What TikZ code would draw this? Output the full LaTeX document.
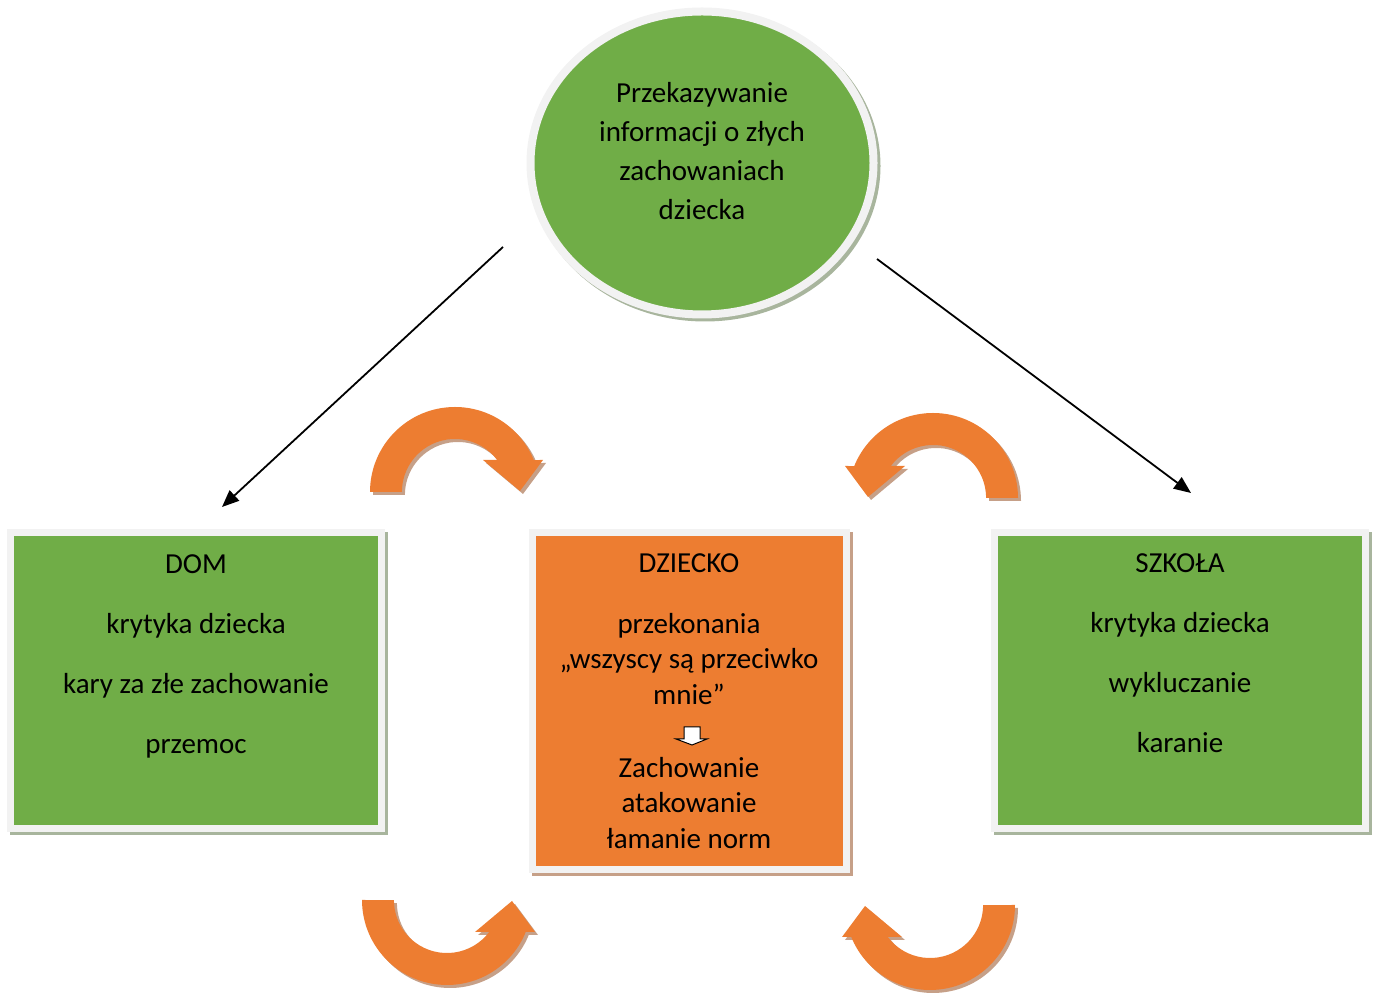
\documentclass[tikz,border=0pt]{standalone}
\usepackage{fontspec}
\setmainfont{Carlito}
\usetikzlibrary{shapes.geometric, arrows.meta, positioning}
\definecolor{leafgreen}{HTML}{70AD47}
\definecolor{carrot}{HTML}{ED7D31}
\definecolor{framegray}{HTML}{F2F2F2}
\definecolor{greenshade}{HTML}{A8B59D}
\definecolor{carrotshade}{HTML}{C6A088}
\tikzset{
  greenbox/.style = {rectangle, fill = leafgreen, draw = framegray, line width = 7pt, minimum width = 371.5pt, minimum height = 296pt, inner sep = 0pt,
    preaction = {draw = greenshade, line width = 7pt, transform canvas = {shift = {(3pt,-3pt)}}}},
  carrotbox/.style = {rectangle, fill = carrot, draw = framegray, line width = 7pt, minimum width = 314pt, minimum height = 337pt, inner sep = 0pt,
    preaction = {draw = carrotshade, line width = 7pt, transform canvas = {shift = {(3pt,-3pt)}}}},
  bubble/.style = {ellipse, fill = leafgreen, draw = framegray, line width = 8pt, minimum width = 343pt, minimum height = 303pt, inner sep = 0pt,
    preaction = {draw = greenshade, line width = 8pt, transform canvas = {shift = {(3pt,-3pt)}}}},
  boxtext/.style = {align = center, inner sep = 0pt, font = \fontsize{29}{35.5}\selectfont},
  bubbletext/.style = {align = center, inner sep = 0pt, font = \fontsize{29}{39}\selectfont},
  link/.style = {draw, line width = 1.8pt, -{Triangle[length = 17pt, width = 14pt]}},
  whitearrow/.style = {draw, fill = white, line width = 1pt, line join = miter},
  curvarrow/.pic = {
    \fill[pic actions] (-85,0) arc[start angle = 180, end angle = 22.1, radius = 85] -- (88,32) -- (65,1) -- (28,32) -- (42.2,32)
      arc[start angle = 37.1, end angle = 180, radius = 53] -- cycle;
  }
}
\begin{document}
\begin{tikzpicture}[x = 1pt, y = 1pt]
			\useasboundingbox (0,0) rectangle (1376,998);
			% Place nodes
			\node [bubble] (circ) at (702, 835) {};
			\node [bubbletext, below = 75pt of circ.north] (circtext) {Przekazywanie\\informacji o złych\\zachowaniach\\dziecka};
			\node [greenbox] (dom) at (196, 317.5) {};
			\node [carrotbox] (dziecko) at (689, 297) {};
			\node [greenbox] (szkola) at (1180, 317.5) {};
			\node [boxtext, below = 25pt of dom.north] (domtext) {DOM\\[24.5pt]krytyka dziecka\\[24.5pt]kary za złe zachowanie\\[24.5pt]przemoc};
			\node [boxtext, below = 24pt of dziecko.north] (dzieckotext) {DZIECKO\\[25.5pt]przekonania\\„wszyscy są przeciwko\\mnie”\\[37.5pt]Zachowanie\\atakowanie\\łamanie norm};
			\node [boxtext, below = 24pt of szkola.north] (szkolatext) {SZKOŁA\\[24.5pt]krytyka dziecka\\[24.5pt]wykluczanie\\[24.5pt]karanie};
			% Small arrow inside the child box
			\draw [whitearrow] (684,271) -- (700,271) -- (700,259) -- (707,259) -- (692,253) -- (676,259) -- (684,259) -- cycle;
			% Circular arrows
			\pic [fill = carrotshade] at (458, 503) {curvarrow};
			\pic [fill = carrot] at (455, 506) {curvarrow};
			\pic [fill = carrotshade, xscale = -1] at (936, 497) {curvarrow};
			\pic [fill = carrot, xscale = -1] at (933, 500) {curvarrow};
			\pic [fill = carrotshade, yscale = -1] at (450, 95) {curvarrow};
			\pic [fill = carrot, yscale = -1] at (447, 98) {curvarrow};
			\pic [fill = carrotshade, xscale = -1, yscale = -1] at (933, 90) {curvarrow};
			\pic [fill = carrot, xscale = -1, yscale = -1] at (930, 93) {curvarrow};
			% Draw edges
			\path [link] ([shift = {(-199,-84)}]circ.center) -- ([shift = {(26,22)}]dom.north);
			\path [link] ([shift = {(175,-96)}]circ.center) -- ([shift = {(11,36)}]szkola.north);
\end{tikzpicture}
\end{document}
